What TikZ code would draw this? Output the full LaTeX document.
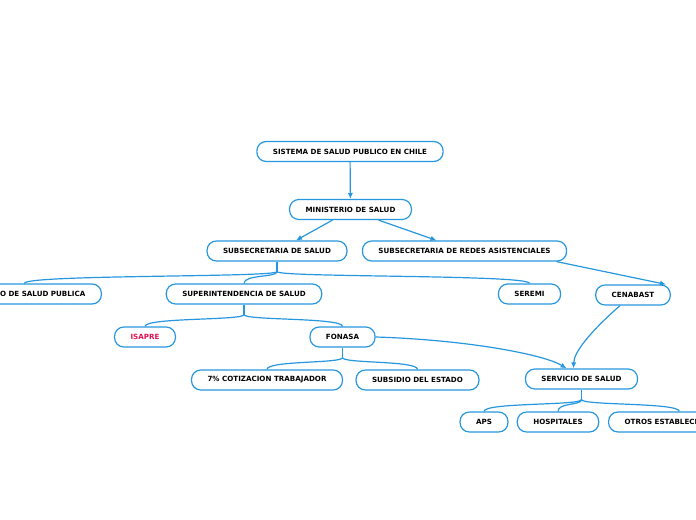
\documentclass[tikz,border=0pt]{standalone}
\usepackage{fontspec}
\setmainfont{DejaVu Sans}
\usepackage{xcolor}
\usetikzlibrary{arrows.meta,calc}
\definecolor{mapblue}{RGB}{38,150,222}
\definecolor{mapred}{RGB}{225,20,80}
\tikzset{
  box/.style={rectangle, rounded corners=7pt, draw=mapblue, line width=0.9pt, fill=white, inner xsep=12pt, minimum height=15pt, font=\fontsize{5.35pt}{6pt}\selectfont\bfseries},
  link/.style={-{Latex[length=4.5pt,width=4pt]}, line width=0.9pt, draw=mapblue},
  branch/.style={line width=0.9pt, draw=mapblue}
}

\begin{document}
\begin{tikzpicture}[x=0.75pt, y=-0.75pt]
  \useasboundingbox (0,0) rectangle (696,520);

  % top levels
  \node[box] (sistema) at (350,151.5) {SISTEMA DE SALUD PUBLICO EN CHILE};
  \node[box] (minsal) at (350.5,209.5) {MINISTERIO DE SALUD};
  \node[box] (subsal) at (277,251) {SUBSECRETARIA DE SALUD};
  \node[box] (subredes) at (464.5,251) {SUBSECRETARIA DE REDES ASISTENCIALES};

  % under the subsecretaries
  \node[box, anchor=east] (isp) at (102,294) {INSTITUTO DE SALUD PUBLICA};
  \node[box] (superint) at (244,294) {SUPERINTENDENCIA DE SALUD};
  \node[box] (seremi) at (529.5,294) {SEREMI};
  \node[box] (cenabast) at (633,295) {CENABAST};

  \node[box, text=mapred] (isapre) at (145,337) {ISAPRE};
  \node[box] (fonasa) at (342.5,337) {FONASA};
  \node[box] (cotiz) at (267,380) {7\% COTIZACION TRABAJADOR};
  \node[box] (subsidio) at (417.5,380) {SUBSIDIO DEL ESTADO};

  \node[box] (servicio) at (581.5,379) {SERVICIO DE SALUD};
  \node[box] (aps) at (484,422) {APS};
  \node[box] (hosp) at (558,422) {HOSPITALES};
  \node[box, anchor=west] (otros) at (608,422) {OTROS ESTABLECIMIENTOS};

  % arrows
  \draw[link] (sistema) -- (minsal);
  \draw[link] ($(minsal.south)+(-18,0)$) -- ($(subsal.north)+(19,0)$);
  \draw[link] ($(minsal.south)+(28,0)$) -- ($(subredes.north)+(-28,0)$);
  \draw[link] ($(subredes.south)+(92,0)$) -- ($(cenabast.north)+(33,0)$);
  \draw[link] (fonasa.east) .. controls (470,340) and (545,355) .. ($(servicio.north)+(-15,0)$);
  \draw[link] ($(cenabast.south)+(-13,0)$) .. controls (590,332) and (574,352) .. ($(servicio.north)+(-8,0)$);

  % branches
  \coordinate (jsub) at ($(subsal.south)+(0,10)$);
  \draw[branch] (subsal.south) -- (jsub);
  \foreach \kid in {isp, superint, seremi}
    \draw[branch] (jsub) .. controls ($(jsub)+(0,6)$) and ($(\kid.north)+(0,-9)$) .. (\kid.north);

  \coordinate (jsup) at ($(superint.south)+(0,10)$);
  \draw[branch] (superint.south) -- (jsup);
  \foreach \kid in {isapre, fonasa}
    \draw[branch] (jsup) .. controls ($(jsup)+(0,6)$) and ($(\kid.north)+(0,-9)$) .. (\kid.north);

  \coordinate (jfon) at ($(fonasa.south)+(0,10)$);
  \draw[branch] (fonasa.south) -- (jfon);
  \foreach \kid in {cotiz, subsidio}
    \draw[branch] (jfon) .. controls ($(jfon)+(0,6)$) and ($(\kid.north)+(0,-9)$) .. (\kid.north);

  \coordinate (jser) at ($(servicio.south)+(0,10)$);
  \draw[branch] (servicio.south) -- (jser);
  \foreach \kid in {aps, hosp, otros}
    \draw[branch] (jser) .. controls ($(jser)+(0,6)$) and ($(\kid.north)+(0,-9)$) .. (\kid.north);
\end{tikzpicture}
\end{document}
